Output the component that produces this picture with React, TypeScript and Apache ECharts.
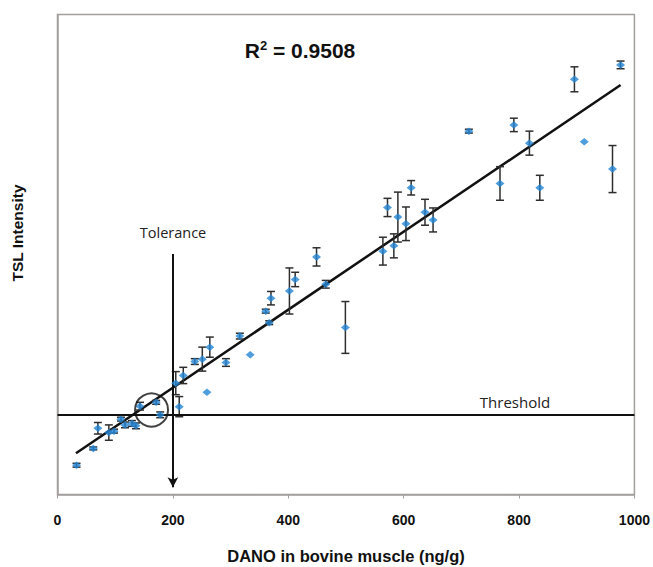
import React, { useEffect, useRef } from "react";
import * as echarts from "echarts";

// DANO concentration (ng/g)
const xValues = [33, 62, 70, 89, 98, 110, 117, 129, 136, 143, 171, 178, 205, 211, 218, 259, 238, 251, 264, 292, 316, 334, 361, 367, 370, 402, 412, 449, 465, 499, 564, 572, 583, 590, 604, 613, 637, 651, 713, 767, 791, 818, 836, 896, 913, 962, 976];
// TSL intensity (relative units)
const yValues = [6.1, 9.6, 13.8, 12.9, 13.2, 15.7, 14.5, 14.8, 14.3, 18.4, 19.2, 16.6, 23.2, 18.3, 24.8, 21.3, 27.7, 28.2, 30.7, 27.5, 33.0, 29.1, 38.2, 35.8, 40.9, 42.4, 44.8, 49.5, 43.8, 34.8, 50.7, 59.8, 51.8, 57.8, 56.4, 63.9, 58.8, 57.2, 75.7, 64.8, 77.0, 73.2, 63.9, 86.5, 73.5, 67.8, 89.5];
// standard deviation
const errValues = [0.4, 0.3, 1.2, 1.6, 0.4, 0.4, 0.6, 0.6, 0.6, 0.8, 0.4, 0.6, 2.4, 2.1, 1.7, 0, 0.6, 2.5, 2.1, 0.8, 0.6, 0, 0.4, 0.4, 1.4, 4.8, 1.5, 1.9, 0.8, 5.4, 2.9, 1.9, 2.5, 5.2, 3.5, 1.5, 2.7, 2.5, 0.4, 3.5, 1.4, 2.5, 2.6, 2.6, 0, 4.9, 0.8];

// linear fit end points
const fitX = [32, 976];
const fitY = [8.6, 85.3];

const xTicks = [0, 200, 400, 600, 800, 1000];
const thresholdY = 16.56;
const toleranceX = 200;
const toleranceTop = 50.1;
const toleranceBottom = 1.5;
const circleCenter = [163, 17.6];

export default function App() {
  const ref = useRef<HTMLDivElement>(null);
  useEffect(() => {
    if (!ref.current) return;
    const chart = echarts.init(ref.current, null, { renderer: "svg" });
    const points = xValues.map((x, i) => [x, yValues[i]]);
    const errData = xValues
      .map((x, i) => [x, yValues[i] - errValues[i], yValues[i] + errValues[i], errValues[i]])
      .filter((d) => d[3] > 0);
    const fitData = fitX.map((x, i) => [x, fitY[i]]);

    chart.setOption({
      animation: false,
      backgroundColor: "#ffffff",
      grid: {
        left: 57.5,
        right: 18.5,
        top: 14.5,
        bottom: 72.5,
        show: true,
        borderColor: "#a39f9d",
        borderWidth: 1.5,
        backgroundColor: "#ffffff",
      },
      xAxis: {
        type: "value",
        min: 0,
        max: 1000,
        interval: 200,
        axisLine: { show: true, lineStyle: { color: "#a39f9d", width: 1.5 } },
        axisTick: { show: true, length: 4, lineStyle: { color: "#a39f9d" } },
        splitLine: { show: false },
        axisLabel: {
          margin: 18,
          fontFamily: "Liberation Sans, Arial, sans-serif",
          fontWeight: "bold",
          fontSize: 14,
          color: "#111",
          formatter: (v: number) => (xTicks.includes(v) ? String(v) : ""),
        },
      },
      yAxis: {
        type: "value",
        min: 0,
        max: 100,
        axisLine: { show: true, lineStyle: { color: "#a39f9d", width: 1.5 } },
        axisTick: { show: false },
        axisLabel: { show: false },
        splitLine: { show: false },
      },
      graphic: [
        {
          type: "text",
          x: 300,
          y: 50,
          style: {
            text: "{r|R}{s|2}{r| = 0.9508}",
            align: "center",
            verticalAlign: "middle",
            rich: {
              r: { fontFamily: "Liberation Sans, Arial, sans-serif", fontWeight: "bold", fontSize: 21, fill: "#111" },
              s: { fontFamily: "Liberation Sans, Arial, sans-serif", fontWeight: "bold", fontSize: 13, fill: "#111", verticalAlign: "top", padding: [0, 0, 10, 0] },
            },
          },
        },
        {
          type: "text",
          x: 173,
          y: 232,
          style: { text: "Tolerance", align: "center", verticalAlign: "middle", fontFamily: "Open Sans, sans-serif", fontSize: 14.5, fill: "#222" },
        },
        {
          type: "text",
          x: 515,
          y: 402,
          style: { text: "Threshold", align: "center", verticalAlign: "middle", fontFamily: "Open Sans, sans-serif", fontSize: 15, fill: "#222" },
        },
        {
          type: "text",
          x: 346,
          y: 556,
          style: { text: "DANO in bovine muscle (ng/g)", align: "center", verticalAlign: "middle", fontFamily: "Liberation Sans, Arial, sans-serif", fontWeight: "bold", fontSize: 16.5, fill: "#111" },
        },
        {
          type: "text",
          x: 17,
          y: 233,
          rotation: Math.PI / 2,
          style: { text: "TSL Intensity", align: "center", verticalAlign: "middle", fontFamily: "Liberation Sans, Arial, sans-serif", fontWeight: "bold", fontSize: 15.5, fill: "#111" },
        },
      ],
      series: [
        {
          type: "line",
          data: fitData,
          symbol: "none",
          lineStyle: { color: "#111", width: 2.5 },
          z: 3,
          markLine: {
            silent: true,
            symbol: "none",
            label: { show: false },
            data: [
              [
                { coord: [0, thresholdY], symbol: "none" },
                { coord: [1000, thresholdY], symbol: "none" },
              ],
              [
                { coord: [toleranceX, toleranceTop], symbol: "none" },
                { coord: [toleranceX, toleranceBottom], symbol: "arrow", symbolSize: [8, 10] },
              ],
            ],
            lineStyle: { color: "#111", width: 2, type: "solid" },
          },
        },
        {
          type: "custom",
          data: errData,
          z: 4,
          renderItem: (params: any, api: any) => {
            const x = api.value(0);
            const lo = api.coord([x, api.value(1)]);
            const hi = api.coord([x, api.value(2)]);
            const w = 4;
            const st = { stroke: "#2e2e2e", lineWidth: 1.5 };
            return {
              type: "group",
              children: [
                { type: "line", shape: { x1: lo[0], y1: lo[1], x2: hi[0], y2: hi[1] }, style: st },
                { type: "line", shape: { x1: lo[0] - w, y1: lo[1], x2: lo[0] + w, y2: lo[1] }, style: st },
                { type: "line", shape: { x1: hi[0] - w, y1: hi[1], x2: hi[0] + w, y2: hi[1] }, style: st },
              ],
            };
          },
        },
        {
          type: "scatter",
          data: points,
          symbol: "diamond",
          symbolSize: [9, 7.5],
          itemStyle: { color: "#2384d4" },
          z: 5,
        },
        {
          type: "scatter",
          data: [circleCenter],
          symbol: "circle",
          symbolSize: 33,
          itemStyle: { color: "rgba(0,0,0,0)", borderColor: "#111", borderWidth: 2 },
          z: 6,
        },
      ],
    });
    return () => chart.dispose();
  }, []);
  return <div ref={ref} style={{ position: "fixed", left: 0, top: 0, width: 653, height: 567 }} />;
}
